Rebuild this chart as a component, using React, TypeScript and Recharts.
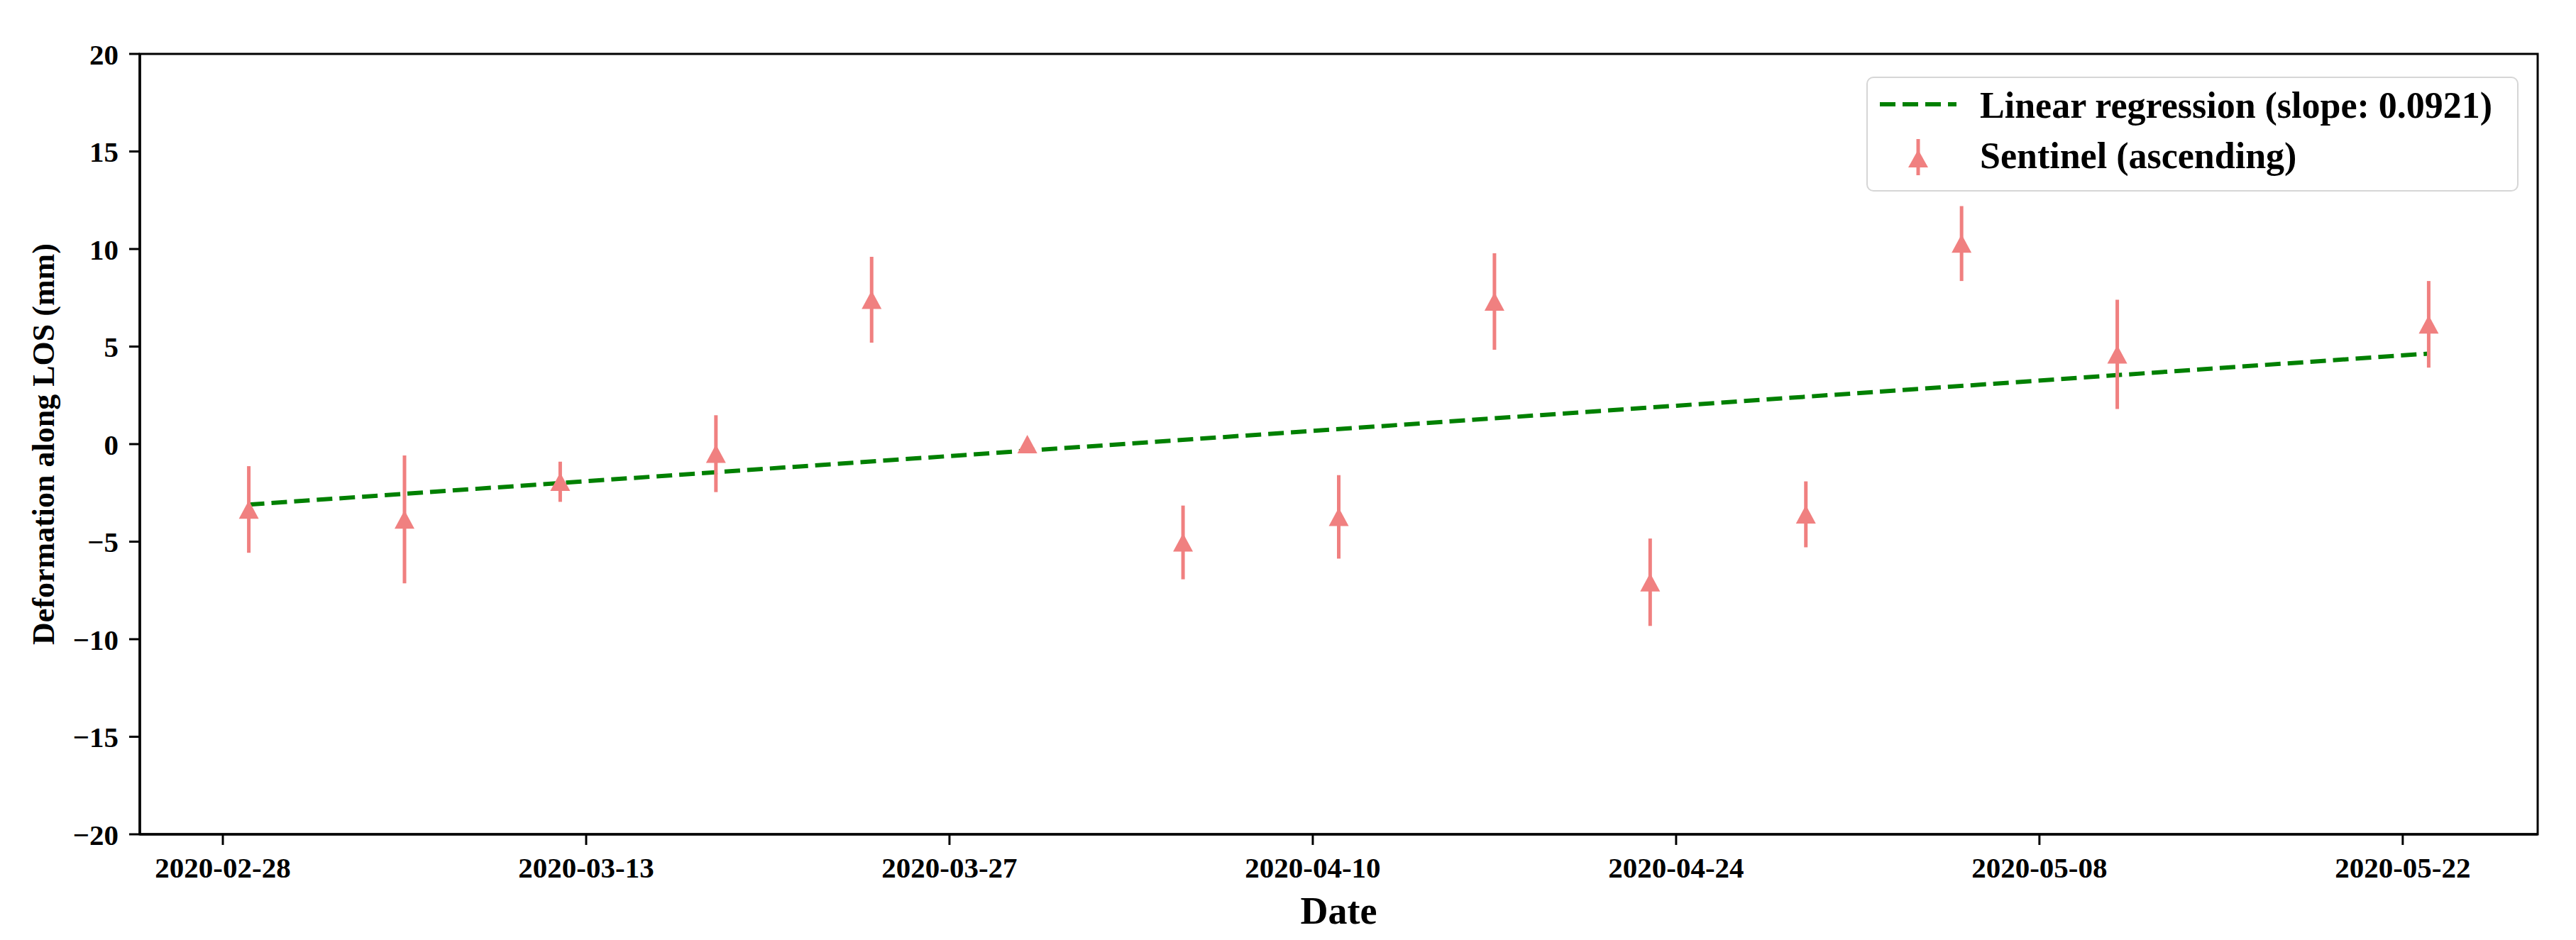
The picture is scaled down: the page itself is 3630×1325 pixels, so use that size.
import React from 'react';
import {
  ComposedChart,
  Scatter,
  Line,
  XAxis,
  YAxis,
  ErrorBar,
  ReferenceArea,
  Legend,
} from 'recharts';

const FONT = '"Liberation Serif", "Times New Roman", Times, serif';
const CORAL = '#F08080';
const GREEN = '#008000';

// day 0 of the time axis
const START = '2020-02-28';

// Sentinel ascending acquisitions (6-day repeat, 05-17 missing)
const sentinelDates = [
  '2020-02-29', '2020-03-06', '2020-03-12', '2020-03-18', '2020-03-24',
  '2020-03-30', '2020-04-05', '2020-04-11', '2020-04-17', '2020-04-23',
  '2020-04-29', '2020-05-05', '2020-05-11', '2020-05-23',
];
const sentinelValues = [
  -3.35, -3.86, -1.93, -0.49, 7.4, 0.0, -5.04, -3.73, 7.31, -7.08, -3.6, 10.28, 4.6, 6.14,
];
const sentinelErrors = [
  2.22, 3.28, 1.03, 1.97, 2.2, 0.3, 1.89, 2.14, 2.47, 2.24, 1.69, 1.92, 2.8, 2.22,
];

// regression line end points
const regressionDates = ['2020-02-29', '2020-05-23'];
const regressionValues = [-3.1, 4.64];

const tickDates = [
  '2020-02-28', '2020-03-13', '2020-03-27', '2020-04-10', '2020-04-24', '2020-05-08', '2020-05-22',
];
const yTicks = [-20, -15, -10, -5, 0, 5, 10, 15, 20];

const toDay = (d: string) => (Date.parse(d) - Date.parse(START)) / 86400000;
const X_DOMAIN: [number, number] = [-3.2, 89.2];

const sentinelData = sentinelDates.map((d, i) => ({
  day: toDay(d),
  value: sentinelValues[i],
  err: sentinelErrors[i],
}));
const regressionData = regressionDates.map((d, i) => ({ day: toDay(d), value: regressionValues[i] }));
const tickDays = tickDates.map(toDay);

const formatX = (v: number) => {
  const idx = tickDays.indexOf(v);
  return idx >= 0 ? tickDates[idx] : '';
};
const formatY = (v: number) => (v < 0 ? `\u2212${Math.abs(v)}` : String(v));

const Triangle = (props: any) => {
  const { cx, cy } = props;
  if (cx == null || cy == null) return null;
  return (
    <polygon
      points={`${cx},${cy - 13} ${cx - 14},${cy + 13} ${cx + 14},${cy + 13}`}
      fill={CORAL}
    />
  );
};

const LegendBox = () => (
  <svg width={919} height={162} style={{ display: 'block', overflow: 'visible' }}>
    <rect x={1} y={1} width={917} height={160} rx={9} fill="rgba(255,255,255,0.8)" stroke="#d6d6d6" strokeWidth={2} />
    <line x1={19} y1={39} x2={127} y2={39} stroke={GREEN} strokeWidth={6} strokeDasharray="22 10" />
    <text x={160} y={58} fontFamily={FONT} fontWeight="bold" fontSize={52} fill="#000">
      Linear regression (slope: 0.0921)
    </text>
    <line x1={73} y1={88} x2={73} y2={139} stroke={CORAL} strokeWidth={5} />
    <polygon points="73,103 59,128 87,128" fill={CORAL} />
    <text x={160} y={129} fontFamily={FONT} fontWeight="bold" fontSize={52} fill="#000">
      Sentinel (ascending)
    </text>
  </svg>
);

const tickStyle = { fontSize: 41, fontWeight: 700, fontFamily: FONT, fill: '#000' };

export default function App() {
  return (
    <div style={{ position: 'absolute', left: 0, top: 0, width: 3630, height: 1325, background: '#fff' }}>
      <ComposedChart width={3630} height={1325} margin={{ top: 76, right: 54, bottom: 0, left: 0 }}>
        <XAxis
          type="number"
          dataKey="day"
          domain={X_DOMAIN}
          ticks={tickDays}
          interval={0}
          allowDataOverflow
          tickFormatter={formatX}
          tick={tickStyle}
          tickSize={15}
          tickMargin={17}
          height={149}
          axisLine={{ stroke: '#000', strokeWidth: 3.5 }}
          tickLine={{ stroke: '#000', strokeWidth: 3 }}
          label={{
            value: 'Date',
            position: 'insideBottom',
            offset: 23,
            style: { fontSize: 54, fontWeight: 700, fontFamily: FONT, fill: '#000' },
          }}
        />
        <YAxis
          type="number"
          domain={[-20, 20]}
          ticks={yTicks}
          interval={0}
          allowDataOverflow
          tickFormatter={formatY}
          tick={tickStyle}
          tickSize={15}
          tickMargin={15}
          width={197}
          axisLine={{ stroke: '#000', strokeWidth: 3.5 }}
          tickLine={{ stroke: '#000', strokeWidth: 3 }}
          label={{
            value: 'Deformation along LOS (mm)',
            angle: -90,
            position: 'insideLeft',
            offset: 60,
            style: { fontSize: 44, fontWeight: 700, fontFamily: FONT, fill: '#000', textAnchor: 'middle' },
          }}
        />
        <ReferenceArea
          x1={X_DOMAIN[0]}
          x2={X_DOMAIN[1]}
          y1={-20}
          y2={20}
          fill="none"
          stroke="#000"
          strokeWidth={3}
          strokeOpacity={1}
        />
        <Line
          data={regressionData}
          dataKey="value"
          name="Linear regression (slope: 0.0921)"
          stroke={GREEN}
          strokeWidth={6}
          strokeDasharray="22 10"
          dot={false}
          activeDot={false}
          isAnimationActive={false}
        />
        <Scatter
          data={sentinelData}
          dataKey="value"
          name="Sentinel (ascending)"
          fill={CORAL}
          shape={Triangle}
          isAnimationActive={false}
        >
          <ErrorBar dataKey="err" direction="y" width={0} stroke={CORAL} strokeWidth={5} />
        </Scatter>
        <Legend
          layout="vertical"
          align="center"
          verticalAlign="middle"
          content={() => <LegendBox />}
          wrapperStyle={{ left: 2630, top: 108, width: 919, height: 162 }}
        />
      </ComposedChart>
    </div>
  );
}
